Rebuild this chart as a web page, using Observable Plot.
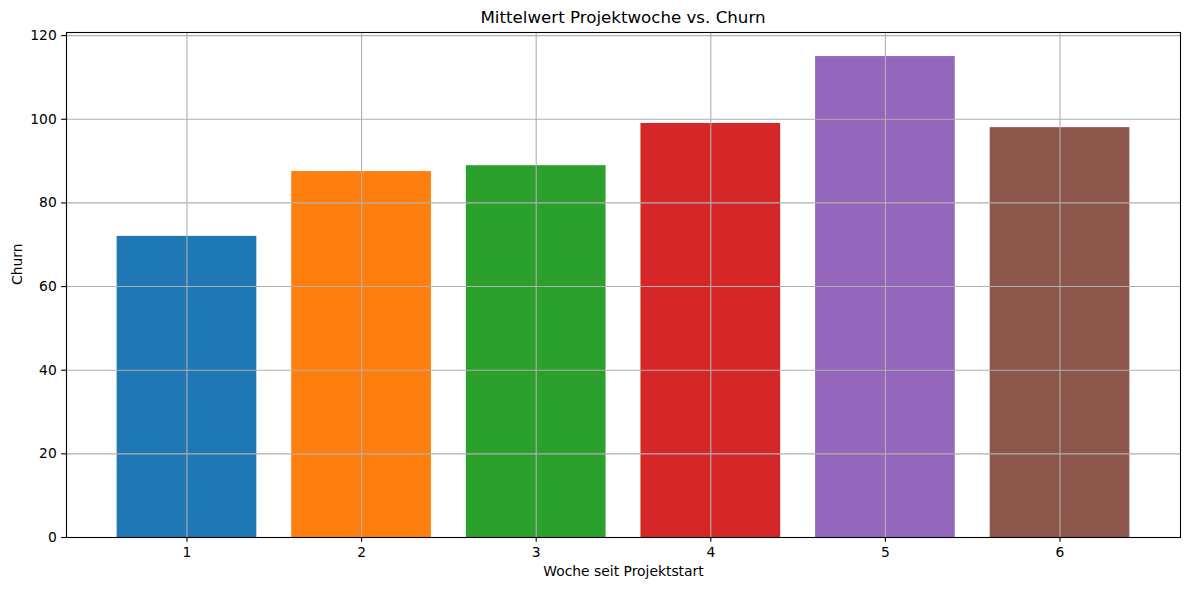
<!DOCTYPE html>
<html>
<head>
<meta charset="utf-8">
<script src="https://cdn.jsdelivr.net/npm/d3@7"></script>
<script src="https://cdn.jsdelivr.net/npm/@observablehq/plot@0.6"></script>
<style>
  html, body { margin: 0; padding: 0; background: #fff; }
  #wrap { width: 1189px; height: 590px; position: relative; font-family: "DejaVu Sans", sans-serif; }
  #title { position: relative; height: 28px; }
  #title span { position: absolute; left: 623px; top: 10px; transform: translateX(-50%); font-size: 16.67px; line-height: 1; color: #000; white-space: nowrap; }
  svg { display: block; }
</style>
</head>
<body>
<div id="wrap">
  <div id="title"><span>Mittelwert Projektwoche vs. Churn</span></div>
  <div id="chart"></div>
</div>
<script>
const weeks = [1, 2, 3, 4, 5, 6];
const churn = [72.0, 87.5, 88.9, 99.0, 115.0, 98.0];
const barColors = ["#1f77b4", "#ff7f0e", "#2ca02c", "#d62728", "#9467bd", "#8c564b"];
const yTicks = [0, 20, 40, 60, 80, 100, 120];
const xLabel = "Woche seit Projektstart";
const yLabel = "Churn";

const data = weeks.map((w, i) => ({week: w, churn: churn[i], color: barColors[i]}));
const barWidth = 0.8;

const chart = Plot.plot({
  width: 1189,
  height: 562,
  marginTop: 4,
  marginLeft: 66,
  marginRight: 9,
  marginBottom: 53,
  style: {fontFamily: "DejaVu Sans", fontSize: "13.89px", color: "#000", background: "#fff"},
  x: {type: "linear", domain: [0.31, 6.69]},
  y: {domain: [0, 120.75]},
  color: {type: "identity"},
  marks: [
    Plot.rectY(data, {x1: d => d.week - barWidth / 2, x2: d => d.week + barWidth / 2, y1: 0, y2: "churn", fill: "color"}),
    Plot.gridX(weeks, {stroke: "#b0b0b0", strokeOpacity: 1, strokeWidth: 1.1}),
    Plot.gridY(yTicks, {stroke: "#b0b0b0", strokeOpacity: 1, strokeWidth: 1.1}),
    Plot.frame({stroke: "#000", strokeWidth: 1.1}),
    Plot.axisX(weeks, {tickSize: 4.86, tickPadding: 4.86, tickFormat: d => String(d), label: null, strokeWidth: 1.1}),
    Plot.axisY(yTicks, {tickSize: 4.86, tickPadding: 4.86, tickFormat: d => String(d), label: null, strokeWidth: 1.1}),
    Plot.text([xLabel], {frameAnchor: "bottom", dy: 38.5, text: d => d, fill: "#000"}),
    Plot.text([yLabel], {frameAnchor: "left", rotate: -90, dx: -48.7, text: d => d, fill: "#000"})
  ]
});
document.getElementById("chart").appendChild(chart);
</script>
</body>
</html>
